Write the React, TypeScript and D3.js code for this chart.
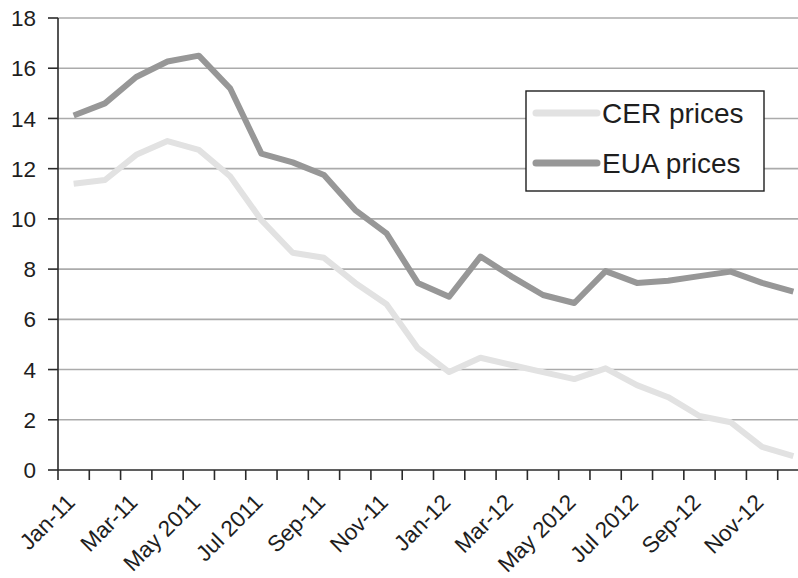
import React, { useRef, useEffect } from 'react';
import * as d3 from 'd3';

const months = [
  'Jan-11', 'Feb-11', 'Mar-11', 'Apr-11', 'May 2011', 'Jun-11', 'Jul 2011', 'Aug-11', 'Sep-11', 'Oct-11', 'Nov-11', 'Dec-11',
  'Jan-12', 'Feb-12', 'Mar-12', 'Apr-12', 'May 2012', 'Jun-12', 'Jul 2012', 'Aug-12', 'Sep-12', 'Oct-12', 'Nov-12', 'Dec-12',
];
const labelled = ['Jan-11', 'Mar-11', 'May 2011', 'Jul 2011', 'Sep-11', 'Nov-11', 'Jan-12', 'Mar-12', 'May 2012', 'Jul 2012', 'Sep-12', 'Nov-12'];
const cerPrices = [11.4, 11.55, 12.55, 13.1, 12.75, 11.7, 9.95, 8.65, 8.45, 7.45, 6.6, 4.85, 3.9, 4.47, 4.18, 3.9, 3.62, 4.05, 3.38, 2.9, 2.15, 1.9, 0.92, 0.55];
const euaPrices = [14.12, 14.6, 15.65, 16.27, 16.5, 15.2, 12.6, 12.25, 11.75, 10.35, 9.42, 7.45, 6.9, 8.5, 7.7, 6.97, 6.65, 7.92, 7.45, 7.54, 7.72, 7.9, 7.45, 7.1];
const yTicks = [0, 2, 4, 6, 8, 10, 12, 14, 16, 18];
const series = [
  { name: 'CER prices', values: cerPrices, color: '#e2e2e2' },
  { name: 'EUA prices', values: euaPrices, color: '#979797' },
];

export default function App() {
  const ref = useRef<SVGSVGElement>(null);
  useEffect(() => {
    const svg = d3.select(ref.current);
    svg.selectAll('*').remove();
    const font = '"Liberation Sans", Arial, sans-serif';
    const left = 58, top = 18, bottom = 470, right = 809;

    const x = d3.scaleBand().domain(months).range([left, right]);
    const y = d3.scaleLinear().domain([0, 18]).range([bottom, top]);

    // gridlines
    svg.append('g').selectAll('line').data(yTicks.filter(d => d > 0)).join('line')
      .attr('x1', left).attr('x2', right)
      .attr('y1', d => y(d)).attr('y2', d => y(d))
      .attr('stroke', '#ababab').attr('stroke-width', 1.6);

    // y axis
    const gy = svg.append('g');
    gy.append('line').attr('x1', left).attr('x2', left).attr('y1', top).attr('y2', bottom)
      .attr('stroke', '#2a2a2a').attr('stroke-width', 1.6);
    gy.selectAll('line.t').data(yTicks).join('line').attr('class', 't')
      .attr('x1', left - 10).attr('x2', left).attr('y1', d => y(d)).attr('y2', d => y(d))
      .attr('stroke', '#2a2a2a').attr('stroke-width', 1.6);
    gy.selectAll('text').data(yTicks).join('text')
      .attr('x', left - 22).attr('y', d => y(d)).attr('dy', '0.36em')
      .attr('text-anchor', 'end').attr('font-family', font).attr('font-size', 22.5)
      .attr('fill', '#1e1e1e').text(d => d);

    // x axis
    const gx = svg.append('g');
    gx.append('line').attr('x1', left).attr('x2', right).attr('y1', bottom).attr('y2', bottom)
      .attr('stroke', '#2a2a2a').attr('stroke-width', 1.6);
    const edges = months.map(m => x(m) as number).concat([right]);
    gx.selectAll('line.t').data(edges).join('line').attr('class', 't')
      .attr('x1', d => d).attr('x2', d => d).attr('y1', bottom).attr('y2', bottom + 10)
      .attr('stroke', '#2a2a2a').attr('stroke-width', 1.6);
    gx.selectAll('text').data(labelled).join('text')
      .attr('transform', d => `translate(${(x(d) as number) + x.bandwidth() / 2 - 3},${bottom + 28}) rotate(-45)`)
      .attr('dy', '0.36em')
      .attr('text-anchor', 'end').attr('font-family', font).attr('font-size', 22.5)
      .attr('fill', '#1e1e1e').text(d => d);

    // lines
    const line = d3.line<number>()
      .x((_, i) => (x(months[i]) as number) + x.bandwidth() / 2)
      .y(d => y(d));
    svg.append('g').selectAll('path').data(series).join('path')
      .attr('d', d => line(d.values))
      .attr('fill', 'none').attr('stroke', d => d.color)
      .attr('stroke-width', 6).attr('stroke-linejoin', 'round');

    // legend
    const lg = svg.append('g').attr('transform', 'translate(526,91)');
    lg.append('rect').attr('width', 238).attr('height', 100)
      .attr('fill', '#fff').attr('stroke', '#1e1e1e').attr('stroke-width', 1.4);
    const items = lg.selectAll('g').data(series).join('g')
      .attr('transform', (_, i) => `translate(0,${22 + i * 50})`);
    items.append('line').attr('x1', 10).attr('x2', 71).attr('y1', 0).attr('y2', 0)
      .attr('stroke', d => d.color).attr('stroke-width', 7).attr('stroke-linecap', 'round');
    items.append('text').attr('x', 76).attr('dy', '0.36em')
      .attr('font-family', font).attr('font-size', 28).attr('fill', '#1e1e1e')
      .text(d => d.name);
  }, []);
  return <svg ref={ref} width={798} height={578} style={{ position: 'absolute', left: 0, top: 0 }} />;
}
